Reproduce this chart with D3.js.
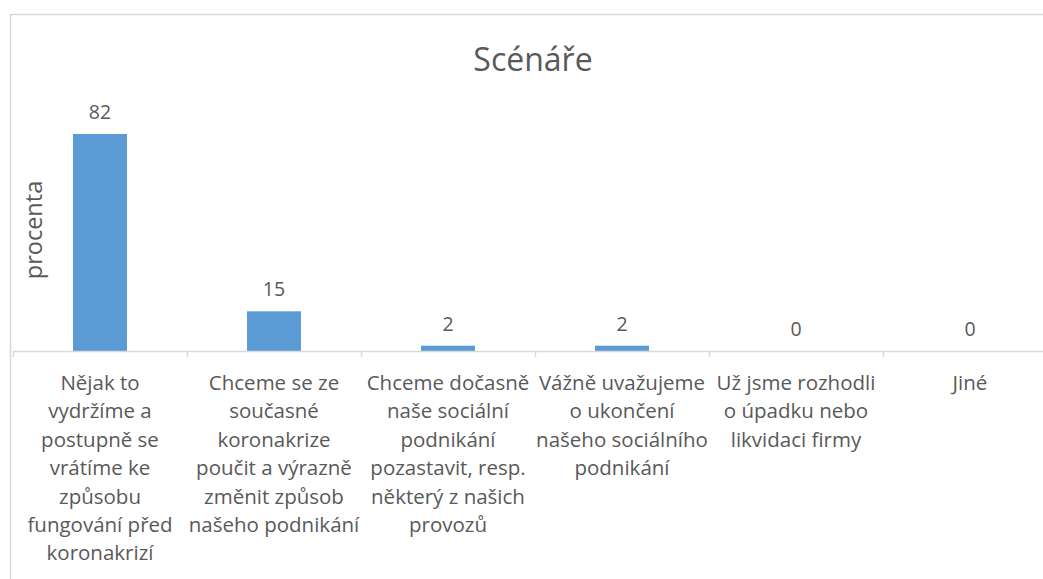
<!DOCTYPE html>
<html>
<head>
<meta charset="utf-8">
<script src="https://cdn.jsdelivr.net/npm/d3@7"></script>
<style>
  body { margin: 0; background: #fff; }
  text { font-family: "Open Sans", sans-serif; fill: #595959; }
</style>
</head>
<body>
<div id="chart"></div>
<script>
// data
const categories = ["c1", "c2", "c3", "c4", "c5", "c6"];
const values = [82, 15, 2, 2, 0, 0];
const labelLines = [
  ["Nějak to", "vydržíme a", "postupně se", "vrátíme ke", "způsobu", "fungování před", "koronakrizí"],
  ["Chceme se ze", "současné", "koronakrize", "poučit a výrazně", "změnit způsob", "našeho podnikání"],
  ["Chceme dočasně", "naše sociální", "podnikání", "pozastavit, resp.", "některý z našich", "provozů"],
  ["Vážně uvažujeme", "o ukončení", "našeho sociálního", "podnikání"],
  ["Už jsme rozhodli", "o úpadku nebo", "likvidaci firmy"],
  ["Jiné"]
];
const title = "Scénáře";
const yTitle = "procenta";

const W = 1043, H = 579;
const svg = d3.select("#chart").append("svg")
  .attr("width", W).attr("height", H);

// outer frame
svg.append("rect")
  .attr("x", 10.5).attr("y", 14.5)
  .attr("width", 1100).attr("height", 700)
  .attr("fill", "none").attr("stroke", "#d9d9d9").attr("stroke-width", 1.5);

const left = 13, right = 1057, baseY = 351;

const x = d3.scaleBand()
  .domain(categories)
  .range([left, right])
  .paddingInner(0.69).paddingOuter(0.345);

const y = d3.scaleLinear()
  .domain([0, 82])
  .range([baseY, 134]);

// bars
svg.selectAll("rect.bar").data(values).enter().append("rect")
  .attr("class", "bar")
  .attr("x", (d, i) => x(categories[i]))
  .attr("width", x.bandwidth())
  .attr("y", d => y(d))
  .attr("height", d => baseY - y(d))
  .attr("fill", "#5b9bd5");

// value labels
svg.selectAll("text.val").data(values).enter().append("text")
  .attr("class", "val")
  .attr("x", (d, i) => x(categories[i]) + x.bandwidth() / 2)
  .attr("y", d => y(d) - 15)
  .attr("text-anchor", "middle")
  .style("font-size", "19.5px")
  .text(d => d);

// x axis line + ticks between categories
const band = (right - left) / categories.length;
svg.append("line")
  .attr("x1", left).attr("x2", right)
  .attr("y1", baseY + 0.5).attr("y2", baseY + 0.5)
  .attr("stroke", "#d9d9d9").attr("stroke-width", 1.5);
d3.range(categories.length + 1).forEach(i => {
  svg.append("line")
    .attr("x1", left + i * band + 0.5).attr("x2", left + i * band + 0.5)
    .attr("y1", baseY).attr("y2", baseY + 6)
    .attr("stroke", "#d9d9d9").attr("stroke-width", 1.5);
});

// category labels
labelLines.forEach((lines, i) => {
  const t = svg.append("text")
    .attr("text-anchor", "middle")
    .style("font-size", "20.5px");
  lines.forEach((ln, j) => {
    t.append("tspan")
      .attr("x", x(categories[i]) + x.bandwidth() / 2)
      .attr("y", 390 + j * 28.4)
      .text(ln);
  });
});

// title
svg.append("text")
  .attr("x", 533).attr("y", 71)
  .attr("text-anchor", "middle")
  .style("font-size", "32px")
  .text(title);

// y axis title
svg.append("text")
  .attr("transform", "translate(42,230) rotate(-90)")
  .attr("text-anchor", "middle")
  .style("font-size", "23.5px")
  .text(yTitle);
</script>
</body>
</html>
